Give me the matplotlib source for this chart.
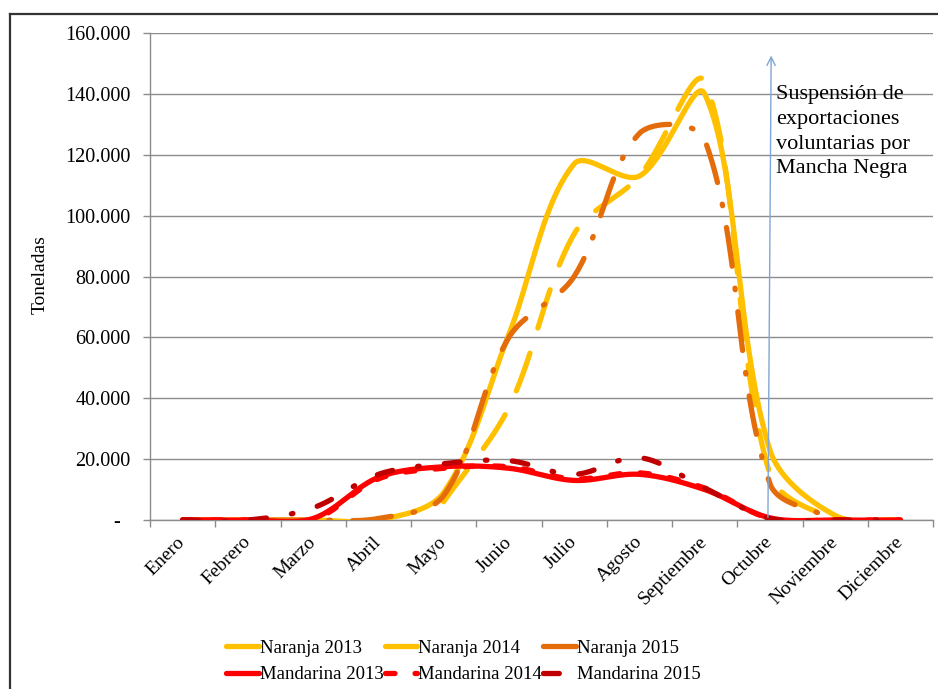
import numpy as np
import matplotlib
matplotlib.use("Agg")
import matplotlib.pyplot as plt
from matplotlib.lines import Line2D
from matplotlib.ticker import FuncFormatter, FixedLocator

plt.rcParams['font.family'] = ['Liberation Serif', 'DejaVu Serif']

months = ['Enero', 'Febrero', 'Marzo', 'Abril', 'Mayo', 'Junio', 'Julio',
          'Agosto', 'Septiembre', 'Octubre', 'Noviembre', 'Diciembre']

naranja_2013 = [0, 0, 0, 0, 9000, 61000, 117000, 113000, 140000, 23000, 1500, 0]
naranja_2014 = [None, None, None, None, 6000, 37000, 94000, 113000, 144000, 15000, 500, 0]
naranja_2015 = [0, 0, 0, 500, 8000, 60000, 80000, 127000, 125000, 12000, 0, None]
mandarina_2013 = [0, 0, 500, 14000, 17500, 17000, 13000, 15000, 10000, 700, 0, 0]
mandarina_2014 = [0, 0, 0, 13500, 17000, 17500, 13500, 15500, 10500, 500, 0, 0]
mandarina_2015 = [0, 0, 4000, 15000, 18500, 19500, 15000, 20500, 10500, 500, 0, 0]

series_labels = ['Naranja 2013', 'Naranja 2014', 'Naranja 2015',
                 'Mandarina 2013', 'Mandarina 2014', 'Mandarina 2015']
annotation_text = 'Suspensión de\nexportaciones\nvoluntarias por\nMancha Negra'
y_ticks = [0, 20000, 40000, 60000, 80000, 100000, 120000, 140000, 160000]

LW = 3.8
styles = [
    dict(color='#FFC000', linestyle='-'),
    dict(color='#FFC000', linestyle=(0, (7.6, 5.0))),
    dict(color='#E46C0A', linestyle=(0, (7.4, 4.2, 0.3, 4.2))),
    dict(color='#FF0000', linestyle='-'),
    dict(color='#FF0000', linestyle=(0, (1.8, 3.8))),
    dict(color='#C00000', linestyle=(0, (3.0, 4.8, 0.3, 4.8))),
]

# approximate screen scale (pixels per category, pixels per tonne) used for
# Excel-style smoothing, which works in screen space
SX, SY = 65.2, 487.0 / 160000.0
TENSION = 1.0 / 3.0


def smooth(values, n=40):
    """Excel-like smoothed line: cubic Bezier, control points scaled by segment lengths."""
    out = []
    idx = [i for i, v in enumerate(values) if v is not None]
    runs, cur = [], []
    for i in idx:
        if cur and i != cur[-1] + 1:
            runs.append(cur)
            cur = []
        cur.append(i)
    if cur:
        runs.append(cur)
    for run in runs:
        P = np.array([[i * SX, values[i] * SY] for i in run], dtype=float)
        k = len(P)
        if k == 1:
            out.append((P[:, 0] / SX, P[:, 1] / SY)); continue
        cin = P.copy(); cout = P.copy()
        for j in range(k):
            prev = P[j - 1] if j > 0 else P[j]
            nxt = P[j + 1] if j < k - 1 else P[j]
            T = nxt - prev
            d0 = np.hypot(*(P[j] - prev))
            d1 = np.hypot(*(nxt - P[j]))
            tot = d0 + d1 if d0 + d1 > 0 else 1.0
            cin[j] = P[j] - T * TENSION * d0 / tot
            cout[j] = P[j] + T * TENSION * d1 / tot
        pts = []
        for j in range(k - 1):
            t = np.linspace(0, 1, n, endpoint=(j == k - 2))[:, None]
            b = ((1 - t) ** 3) * P[j] + 3 * ((1 - t) ** 2) * t * cout[j] \
                + 3 * (1 - t) * t ** 2 * cin[j + 1] + t ** 3 * P[j + 1]
            pts.append(b)
        pts = np.vstack(pts)
        out.append((pts[:, 0] / SX, pts[:, 1] / SY))
    return out


fig = plt.figure(figsize=(9.38, 6.89), dpi=100)
ax = fig.add_axes([150 / 938, 1 - 520 / 689, (933 - 150) / 938, (520 - 33) / 689])

all_series = [naranja_2013, naranja_2014, naranja_2015,
              mandarina_2013, mandarina_2014, mandarina_2015]
handles = []
for vals, st, lab in zip(all_series, styles, series_labels):
    for xx, yy in smooth(vals):
        ax.plot(xx, yy, color=st['color'], linestyle=st['linestyle'], lw=LW,
                solid_capstyle='round', dash_capstyle='round', zorder=3)
    handles.append(Line2D([0], [0], color=st['color'], linestyle=st['linestyle'],
                          lw=LW, solid_capstyle='round', dash_capstyle='round', label=lab))

ax.set_xlim(-0.5, len(months) - 0.5)
ax.set_ylim(0, 160000)

grid_c = '#8C8C8C'
ax.yaxis.set_major_locator(FixedLocator(y_ticks))
ax.yaxis.grid(True, color=grid_c, lw=1.0, zorder=1)
ax.set_axisbelow(True)


def yfmt(v, pos):
    if v == 0:
        return '-  '
    return f'{int(v):,}'.replace(',', '.')


ax.yaxis.set_major_formatter(FuncFormatter(yfmt))
ax.tick_params(axis='y', length=5, width=1, color=grid_c, pad=9, labelsize=14.5)

ax.set_xticks(range(len(months)))
ax.set_xticklabels(months, rotation=45, ha='right', va='center', rotation_mode='anchor',
                   fontsize=14)
ax.tick_params(axis='x', which='major', length=0, pad=14)
ax.set_xticks(np.arange(-0.5, len(months)), minor=True)
ax.tick_params(axis='x', which='minor', length=5, width=1, color=grid_c)

for s in ['top', 'right']:
    ax.spines[s].set_visible(False)
for s in ['left', 'bottom']:
    ax.spines[s].set_color(grid_c)
    ax.spines[s].set_linewidth(1.0)

fig.text(40 / 938, 1 - 275 / 689, 'Toneladas', rotation=90, ha='center', va='center',
         fontsize=14)

# arrow and annotation
ax.annotate('', xy=(9.02, 153500), xytext=(8.97, 0),
            arrowprops=dict(arrowstyle='->,head_length=0.6,head_width=0.3',
                            color='#7FA6D6', lw=1.0), zorder=4)
ax.text(9.1, 143000, annotation_text, ha='left', va='top', fontsize=16,
        linespacing=1.42, zorder=5)

# legend filled row by row (matplotlib fills column-wise)
order = [0, 3, 1, 4, 2, 5]
fig.legend(handles=[handles[i] for i in order], loc='center',
           bbox_to_anchor=(0.494, 0.040), ncol=3,
           frameon=False, fontsize=13.5, handlelength=1.75, handletextpad=0.05,
           columnspacing=0.05, labelspacing=0.5, borderpad=0)

# outer frame
fig.add_artist(Line2D([10 / 938, 10 / 938], [0, 1 - 14 / 689], color='#333333', lw=1.6))
fig.add_artist(Line2D([10 / 938, 1], [1 - 14 / 689, 1 - 14 / 689], color='#333333', lw=1.6))

fig.savefig('out.png', dpi=100)
